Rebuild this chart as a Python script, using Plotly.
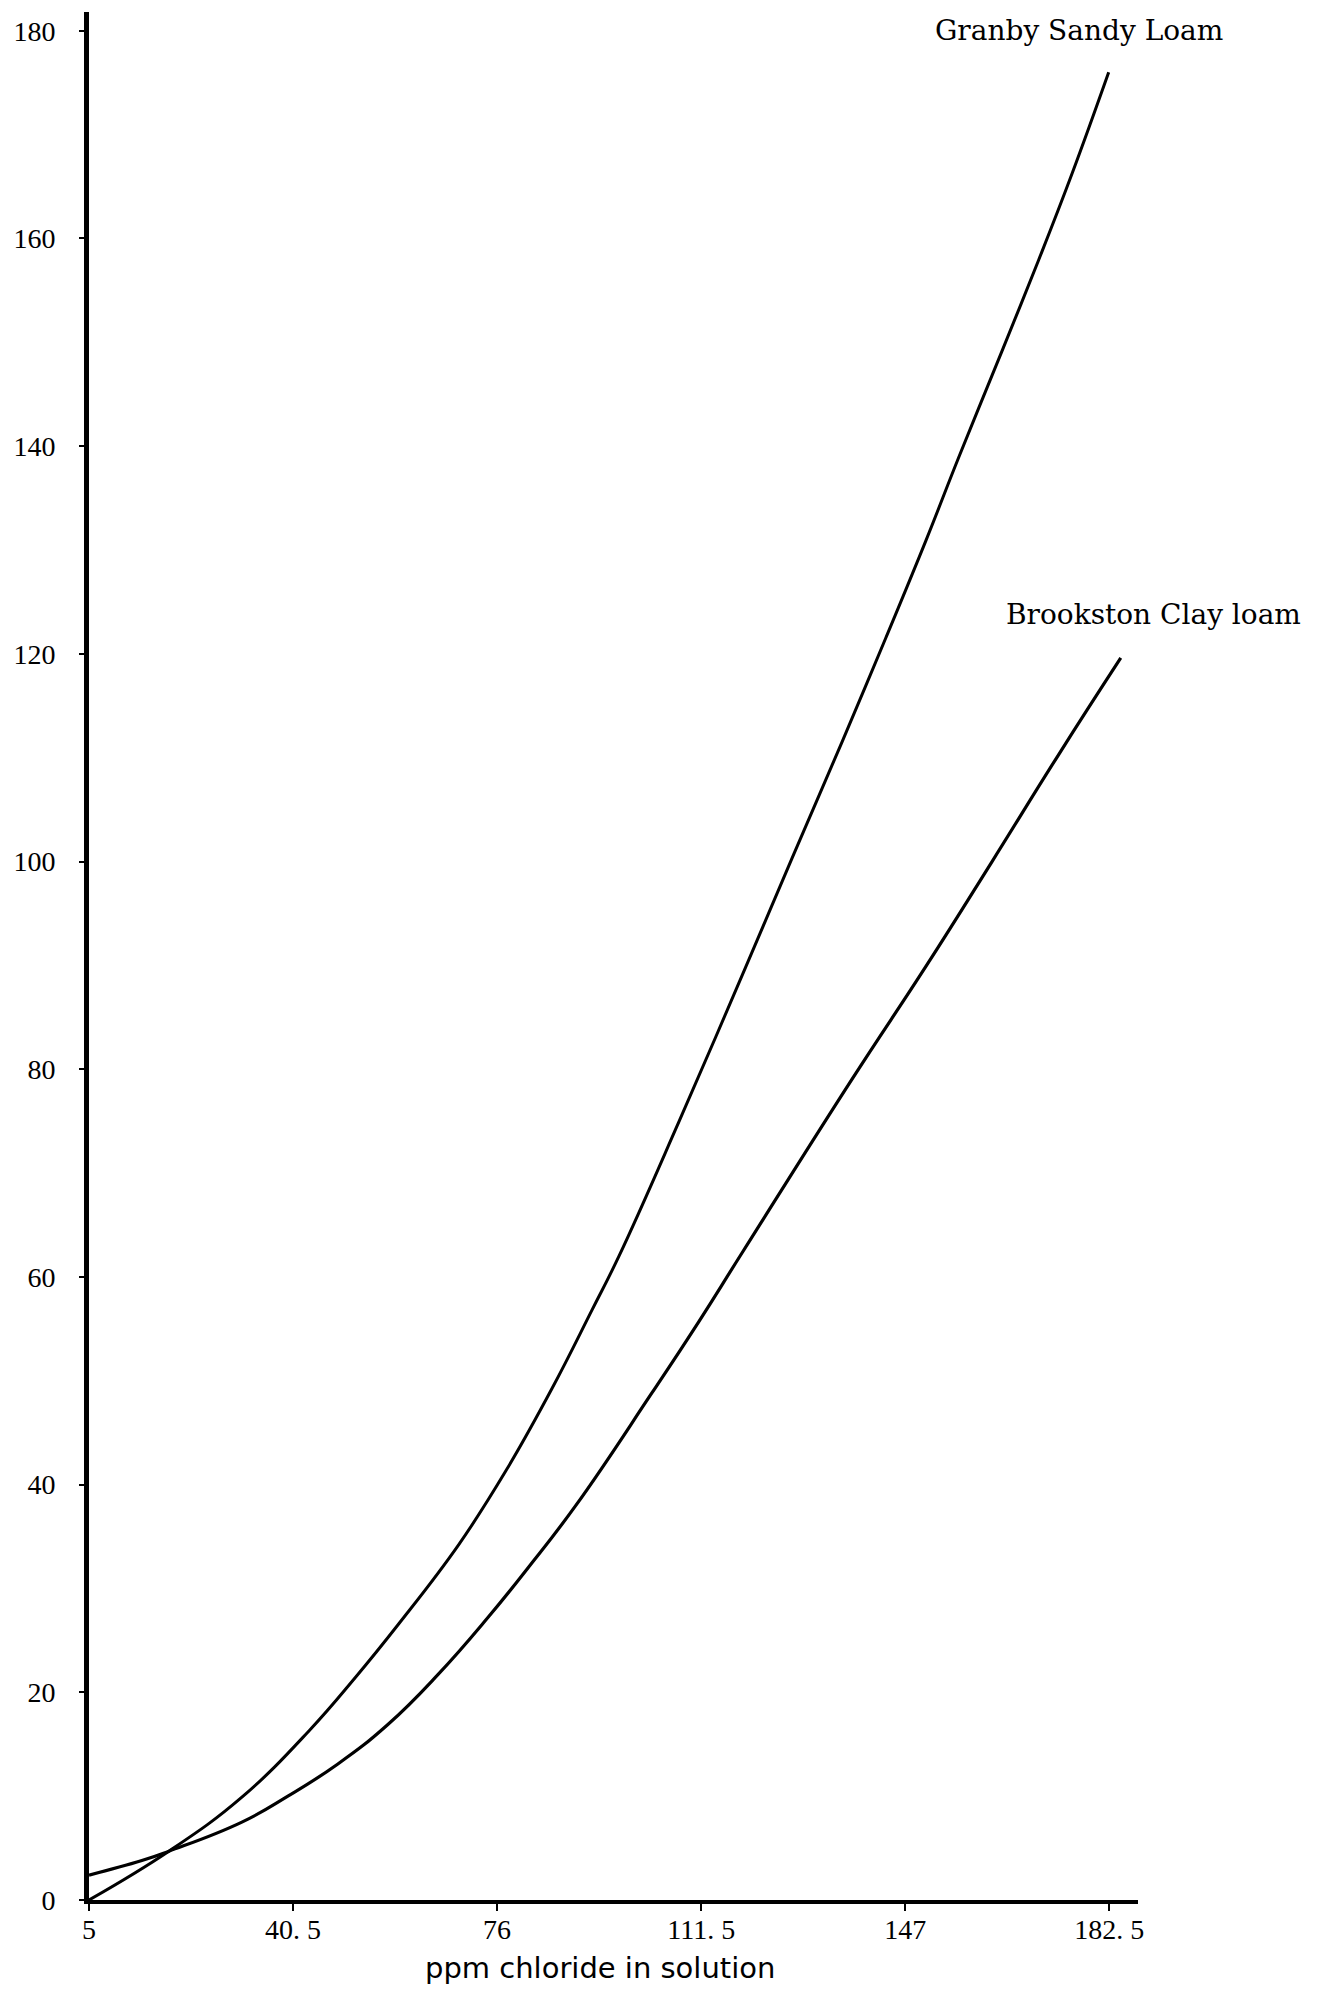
import plotly.graph_objects as go

# Data
granby_x = [5, 18.9, 31.6, 43.3, 51.3, 58.9, 69.3, 77.5, 85.5, 92.5, 97.2, 107.6, 119.3,
            127.3, 136.0, 143.6, 150.6, 156.3, 163.8, 170.2, 176.0, 182.4]
granby_y = [0, 4.7, 9.9, 16.3, 21.4, 26.6, 34.2, 41.3, 49.2, 56.8, 62.0, 74.9, 89.9,
            100.3, 111.5, 121.5, 130.9, 138.9, 149.1, 157.9, 166.2, 176.0]

brookston_x = [5, 14.2, 18.9, 31.6, 39.6, 48.3, 57.0, 65.7, 74.4, 81.4, 89.7, 102.9, 111.1,
               118.6, 137.7, 150.6, 162.0, 173.7, 184.5]
brookston_y = [2.4, 3.8, 4.7, 7.5, 10.0, 13.1, 16.9, 21.7, 27.2, 32.0, 38.0, 48.8, 55.7,
               62.3, 79.0, 89.9, 99.9, 110.3, 119.6]

x_tickvals = [5, 40.5, 76, 111.5, 147, 182.5]
x_ticktext = ["5", "40. 5", "76", "111. 5", "147", "182. 5"]
y_tickvals = [0, 20, 40, 60, 80, 100, 120, 140, 160, 180]

series_names = ["Granby Sandy Loam", "Brookston Clay loam"]
x_title = "ppm chloride in solution"

fig = go.Figure()
fig.add_trace(go.Scatter(x=granby_x, y=granby_y, mode="lines", name=series_names[0],
                         line=dict(color="black", width=3, shape="spline", smoothing=1.2)))
fig.add_trace(go.Scatter(x=brookston_x, y=brookston_y, mode="lines", name=series_names[1],
                         line=dict(color="black", width=3.2, shape="spline", smoothing=1.3)))

serif = "Liberation Serif"
lab_font = dict(family="DejaVu Serif", size=28, color="black")
fig.update_layout(
    width=1328, height=1991,
    margin=dict(l=81, r=198, t=4, b=99),
    paper_bgcolor="white", plot_bgcolor="white",
    showlegend=False,
    font=dict(family=serif, color="black", size=28),
    annotations=[
        dict(text=series_names[0], xref="paper", yref="paper", x=0.944, y=0.990,
             showarrow=False, xanchor="center", yanchor="middle", font=lab_font),
        dict(text=series_names[1], xref="paper", yref="paper", x=1.015, y=0.681,
             showarrow=False, xanchor="center", yanchor="middle", font=lab_font),
        dict(text=x_title, xref="paper", yref="paper", x=0.487, y=-0.036,
             showarrow=False, xanchor="center", yanchor="middle",
             font=dict(family="DejaVu Sans", size=29, color="black")),
    ],
)
fig.update_xaxes(
    range=[5, 187.5], tickvals=x_tickvals, ticktext=x_ticktext,
    showgrid=False, zeroline=False, showline=True, linecolor="black", linewidth=4,
    ticks="outside", ticklen=7, tickwidth=2, tickcolor="black",
    ticklabelstandoff=-6,
    tickfont=dict(family=serif, size=28, color="black"),
)
fig.update_yaxes(
    range=[0, 181.8], tickvals=y_tickvals,
    showgrid=False, zeroline=False, showline=True, linecolor="black", linewidth=5,
    ticks="outside", ticklen=5, tickwidth=2, tickcolor="black",
    ticklabelstandoff=18,
    tickfont=dict(family=serif, size=28, color="black"),
)

fig.write_html("out.html")
